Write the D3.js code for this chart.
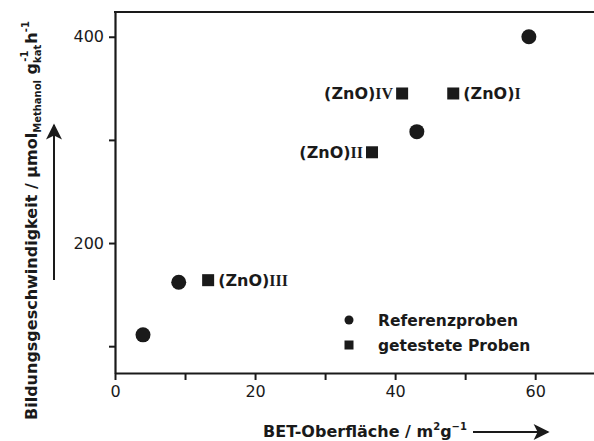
<!DOCTYPE html>
<html>
<head>
<meta charset="utf-8">
<script src="https://cdn.jsdelivr.net/npm/d3@7"></script>
<style>
  body { margin: 0; background: #fff; }
  text { font-family: "DejaVu Sans", Arial, sans-serif; fill: #1a1a1a; }
</style>
</head>
<body>
<div id="wrapper"></div>
<script>
// DATA
// reference samples (circles)
const refSurface = [4.0, 9.1, 43.1, 59.1]
const refRate = [111, 162, 308, 400]

// tested samples (squares)
const testNames = ["I", "II", "III", "IV"]
const testSurface = [48.3, 36.7, 13.3, 41.0]
const testRate = [345, 288, 164, 345]

const xTicks = [0, 10, 20, 30, 40, 50, 60]
const xTickLabels = [0, 20, 40, 60]
const yTicks = [100, 200, 300, 400]
const yTickLabels = [200, 400]

const legendLabels = ["Referenzproben", "getestete Proben"]

async function drawChart() {
  const width = 594
  const height = 441
  const plot = { left: 115, right: 594, top: 12, bottom: 373 }
  const ink = "#1a1a1a"
  const font = "'DejaVu Sans', Arial, sans-serif"

  const svg = d3.select("#wrapper").append("svg")
    .attr("width", width)
    .attr("height", height)

  const xScale = d3.scaleLinear().domain([0, 68.4]).range([plot.left, plot.right])
  const yScale = d3.scaleLinear().domain([74, 424]).range([plot.bottom, plot.top])

  // AXES
  const xAxis = d3.axisBottom(xScale)
    .tickValues(xTicks)
    .tickSize(7)
    .tickSizeOuter(0)
    .tickFormat(d => xTickLabels.includes(d) ? d : "")
  const xg = svg.append("g")
    .attr("transform", `translate(0,${plot.bottom})`)
    .call(xAxis)

  const yAxis = d3.axisLeft(yScale)
    .tickValues(yTicks)
    .tickSize(6)
    .tickSizeOuter(0)
    .tickFormat(d => yTickLabels.includes(d) ? d : "")
  const yg = svg.append("g")
    .attr("transform", `translate(${plot.left},0)`)
    .call(yAxis)

  for (const g of [xg, yg]) {
    g.select(".domain").attr("stroke", ink).attr("stroke-width", 2.2)
    g.selectAll(".tick line").attr("stroke", ink).attr("stroke-width", 2)
    g.selectAll(".tick text")
      .style("font-family", font)
      .style("font-size", "16px")
      .attr("fill", "#222")
  }
  xg.selectAll(".tick text").attr("dy", "1.05em").attr("y", 7)
  yg.selectAll(".tick text").attr("x", -11)

  // top frame line
  svg.append("line")
    .attr("x1", plot.left - 1).attr("x2", plot.right)
    .attr("y1", plot.top).attr("y2", plot.top)
    .attr("stroke", ink).attr("stroke-width", 2.2)

  // MARKS
  svg.append("g").selectAll("circle")
    .data(d3.range(refSurface.length))
    .join("circle")
    .attr("cx", i => xScale(refSurface[i]))
    .attr("cy", i => yScale(refRate[i]))
    .attr("r", 7.5)
    .attr("fill", ink)

  const sq = 12
  svg.append("g").selectAll("rect")
    .data(d3.range(testSurface.length))
    .join("rect")
    .attr("x", i => xScale(testSurface[i]) - sq / 2)
    .attr("y", i => yScale(testRate[i]) - sq / 2)
    .attr("width", sq)
    .attr("height", sq)
    .attr("fill", ink)

  // sample labels: "(ZnO)" sans bold, numeral in serif bold
  const labelSide = { I: "right", II: "left", III: "right", IV: "left" }
  testNames.forEach((name, i) => {
    const side = labelSide[name]
    const t = svg.append("text")
      .attr("x", xScale(testSurface[i]) + (side === "right" ? 10 : -9))
      .attr("y", yScale(testRate[i]) + 6)
      .attr("text-anchor", side === "right" ? "start" : "end")
      .style("font-size", "16px")
      .style("font-weight", "bold")
    t.append("tspan").text("(ZnO)")
    t.append("tspan")
      .style("font-family", "'Liberation Serif', 'Times New Roman', serif")
      .style("font-size", "16px")
      .text(name)
  })

  // LEGEND
  const legend = svg.append("g").attr("transform", "translate(349,320)")
  legend.append("circle").attr("cx", 0).attr("cy", 0).attr("r", 4.5).attr("fill", ink)
  legend.append("rect").attr("x", -4.5).attr("y", 25 - 4.5).attr("width", 9).attr("height", 9).attr("fill", ink)
  legend.selectAll("text.leg")
    .data(legendLabels)
    .join("text")
    .attr("class", "leg")
    .attr("x", 29)
    .attr("y", (d, i) => i * 25 + 6)
    .style("font-size", "15.5px")
    .style("font-weight", "bold")
    .text(d => d)

  // ARROW MARKER
  svg.append("defs").append("marker")
    .attr("id", "arrow")
    .attr("viewBox", "0 0 10 10")
    .attr("refX", 9).attr("refY", 5)
    .attr("markerWidth", 10.5).attr("markerHeight", 8)
    .attr("markerUnits", "strokeWidth")
    .attr("orient", "auto")
    .append("path")
    .attr("d", "M0,0 L10,5 L0,10 L2.5,5 Z")
    .attr("fill", ink)

  // X TITLE
  const xt = svg.append("text")
    .attr("x", 263)
    .attr("y", 437)
    .style("font-size", "16px")
    .style("font-weight", "bold")
  xt.append("tspan").text("BET-Oberfläche / m")
  xt.append("tspan").attr("dy", -7).style("font-size", "10px").text("2")
  xt.append("tspan").attr("dy", 7).text("g")
  xt.append("tspan").attr("dy", -7).style("font-size", "10px").text("−1")

  svg.append("line")
    .attr("x1", 473).attr("x2", 548)
    .attr("y1", 432).attr("y2", 432)
    .attr("stroke", ink).attr("stroke-width", 2)
    .attr("marker-end", "url(#arrow)")

  // Y TITLE
  const yt = svg.append("text")
    .attr("transform", "translate(37,420) rotate(-90)")
    .style("font-size", "16px")
    .style("font-weight", "bold")
  yt.append("tspan").text("Bildungsgeschwindigkeit / µmol")
  yt.append("tspan").attr("dy", 4).style("font-size", "10px").text("Methanol")
  yt.append("tspan").attr("dy", -4).text(" g")
  yt.append("tspan").attr("dy", 4).style("font-size", "10px").text("kat")
  yt.append("tspan").attr("dy", -13).attr("dx", -17).style("font-size", "10px").text("-1")
  yt.append("tspan").attr("dy", 9).attr("dx", 7).text("h")
  yt.append("tspan").attr("dy", -8).style("font-size", "10px").text("-1")

  svg.append("line")
    .attr("x1", 54).attr("x2", 54)
    .attr("y1", 280).attr("y2", 125)
    .attr("stroke", ink).attr("stroke-width", 2)
    .attr("marker-end", "url(#arrow)")
}
drawChart()
</script>
</body>
</html>
